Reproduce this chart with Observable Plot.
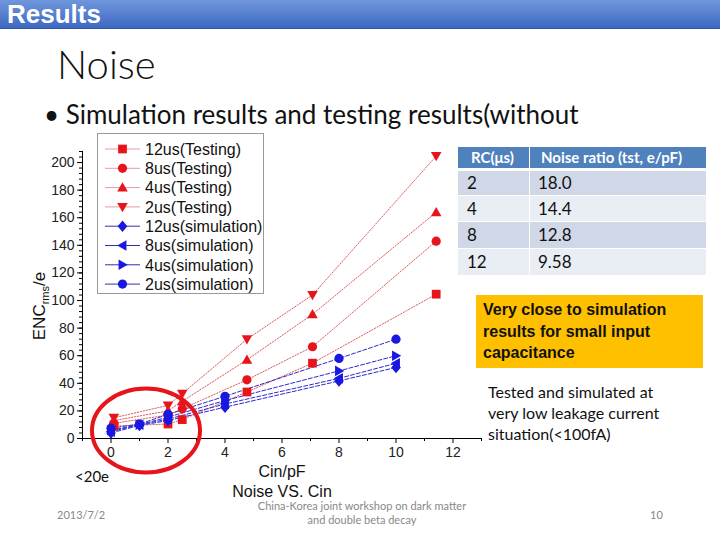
<!DOCTYPE html>
<html><head><meta charset="utf-8">
<script src="https://cdn.jsdelivr.net/npm/d3@7"></script>
<script src="https://cdn.jsdelivr.net/npm/@observablehq/plot@0.6"></script>
<style>
body{margin:0;background:#fff;}
#page{position:relative;width:720px;height:540px;overflow:hidden;background:#fff;font-family:"Liberation Sans",Arial,sans-serif;}
.abs{position:absolute;white-space:nowrap;}
#bar{left:0;top:0;width:720px;height:28px;background:linear-gradient(#7096dc,#3d69c2);border-bottom:1px solid #2d56a8;}
#bar span{position:absolute;left:7px;top:0px;font:bold 26px "Liberation Sans",Arial,sans-serif;color:#fff;line-height:28px;}
.cal{font-family:Lato,"Open Sans",sans-serif;}
</style></head><body><div id="page">
<div id="bar" class="abs"><span>Results</span></div>
<div class="abs cal" style="left:57px;top:39px;font-size:40px;font-weight:300;color:#111;line-height:50px;">Noise</div>
<div class="abs cal" style="left:44px;top:97px;font-size:26px;color:#111;line-height:34px;">•&nbsp;Simulation results and testing results(without</div>
<div id="chart" class="abs" style="left:0;top:140px;"></div>
<div id="ylab" class="abs" style="left:-10px;top:296px;width:100px;height:20px;line-height:20px;text-align:center;transform:rotate(-90deg);font-size:17px;color:#111;">ENC<sub style="font-size:11px;">rms</sub>/e</div>
<div id="legend" class="abs" style="left:97px;top:133px;"></div>
<div id="table" class="abs cal"></div>
<div class="abs" style="left:476px;top:295px;width:227px;height:73px;background:#ffc000;"></div>
<div id="note1" class="abs" style="left:483px;top:299px;font-size:16px;font-weight:bold;color:#111;line-height:21.5px;"></div>
<div id="note2" class="abs cal" style="left:488px;top:381px;font-size:16px;color:#111;line-height:21px;"></div>
<div class="abs cal" style="left:75px;top:466px;font-size:15px;color:#111;line-height:20px;">&lt;20e</div>
<svg class="abs" style="left:0;top:0;" width="720" height="540"><ellipse cx="146" cy="430.5" rx="54" ry="42" fill="none" stroke="#e8141c" stroke-width="4"/></svg>
<div class="abs cal" style="left:57px;top:507px;font-size:11px;color:#888;line-height:16px;">2013/7/2</div>
<div class="abs cal" style="left:212px;top:499px;width:300px;text-align:center;font-size:11px;color:#888;line-height:14px;">China-Korea joint workshop on dark matter<br>and double beta decay</div>
<div class="abs cal" style="left:650px;top:507px;font-size:11px;color:#888;line-height:16px;">10</div>
</div>
<script>
// ---------- data ----------
const testCin = [0.1, 2, 2.5, 4.77, 7.07, 11.41];
const test12 = [9, 10.5, 13.7, 33.7, 54.6, 104.6];
const test8  = [11, 17, 21.6, 42.5, 66.5, 143];
const test4  = [13, 20, 27, 57, 90, 164];
const test2  = [15, 24, 32.5, 72, 104, 204.7];
const simCin = [0, 1, 2, 4, 8, 10];
const sim12 = [4, 9.5, 13, 22.7, 41.7, 51.5];
const sim8  = [5, 10, 14, 25, 43.6, 54.5];
const sim4  = [6, 10, 15.5, 27.5, 49, 60];
const sim2  = [7.5, 10.5, 17.5, 30.6, 58, 72];
const legendNames = ["12us(Testing)","8us(Testing)","4us(Testing)","2us(Testing)","12us(simulation)","8us(simulation)","4us(simulation)","2us(simulation)"];
const xTicks = [0,2,4,6,8,10,12];
const xMinor = [-1,1,3,5,7,9,11,13];
const yTicks = [0,20,40,60,80,100,120,140,160,180,200];
const yMinor = d3.range(0, 209, 4);
const tableHead = ["RC(\u03bcs)", "Noise ratio (tst, e/pF)"];
const tableRC = ["2","4","8","12"];
const tableRatio = ["18.0","14.4","12.8","9.58"];
const note1Lines = ["Very close to simulation","results for small input","capacitance"];
const note2Lines = ["Tested and simulated at","very low leakage current","situation(<100fA)"];

// ---------- symbols ----------
const R = s => Math.sqrt(s / Math.PI);
const symSquare = {draw(c, s){const h=R(s)*0.95; c.moveTo(-h,-h); c.lineTo(h,-h); c.lineTo(h,h); c.lineTo(-h,h); c.closePath();}};
const symCircle = {draw(c, s){const r=R(s); c.moveTo(r,0); c.arc(0,0,r,0,2*Math.PI); c.closePath();}};
const symUp = {draw(c, s){const r=R(s)*1.15; c.moveTo(0,-r); c.lineTo(r,r*0.75); c.lineTo(-r,r*0.75); c.closePath();}};
const symDown = {draw(c, s){const r=R(s)*1.15; c.moveTo(0,r); c.lineTo(r,-r*0.75); c.lineTo(-r,-r*0.75); c.closePath();}};
const symLeft = {draw(c, s){const r=R(s)*1.15; c.moveTo(-r,0); c.lineTo(r*0.75,-r); c.lineTo(r*0.75,r); c.closePath();}};
const symRight = {draw(c, s){const r=R(s)*1.15; c.moveTo(r,0); c.lineTo(-r*0.75,-r); c.lineTo(-r*0.75,r); c.closePath();}};
const symDiamond = {draw(c, s){const r=R(s); c.moveTo(0,-r*1.25); c.lineTo(r*1.05,0); c.lineTo(0,r*1.25); c.lineTo(-r*1.05,0); c.closePath();}};

const RED = "#e8141c", REDLINE = "#d94a4a", BLUE = "#1818e0", BLUELINE = "#2a2ad0";
const series = [
  {name: legendNames[0], xs: testCin, ys: test12, sym: symSquare, test: true},
  {name: legendNames[1], xs: testCin, ys: test8, sym: symCircle, test: true},
  {name: legendNames[2], xs: testCin, ys: test4, sym: symUp, test: true},
  {name: legendNames[3], xs: testCin, ys: test2, sym: symDown, test: true},
  {name: legendNames[4], xs: simCin, ys: sim12, sym: symDiamond, test: false},
  {name: legendNames[5], xs: simCin, ys: sim8, sym: symLeft, test: false},
  {name: legendNames[6], xs: simCin, ys: sim4, sym: symRight, test: false},
  {name: legendNames[7], xs: simCin, ys: sim2, sym: symCircle, test: false}
];
const MR = 4.6;

const marks = [
  Plot.ruleX([-1], {stroke: "#000"}),
  Plot.ruleY([0], {stroke: "#000"}),
  Plot.axisX({ticks: xMinor, tickSize: 3, text: null, label: null}),
  Plot.axisX({ticks: xTicks, tickSize: 5, tickPadding: 4, label: null, fontSize: 14, fill: "#222"}),
  Plot.axisY({ticks: yMinor, tickSize: 3, text: null, label: null}),
  Plot.axisY({ticks: yTicks, tickSize: 5, tickPadding: 3, label: null, fontSize: 14, fill: "#222"}),
  Plot.text(["Cin/pF"], {frameAnchor: "bottom", dy: 38, fontSize: 16, fill: "#111"}),
  Plot.text(["Noise VS. Cin"], {frameAnchor: "bottom", dy: 58, fontSize: 16, fill: "#111"})
];
// lines first (red then blue), then dots
for (const s of series) {
  const data = s.xs.map((x, i) => ({x, y: s.ys[i]}));
  marks.push(Plot.line(data, {x: "x", y: "y", stroke: s.test ? REDLINE : BLUELINE, strokeWidth: s.test ? 0.9 : 1, strokeDasharray: s.test ? "1.4,1.6" : "4,2"}));
}
for (const s of series) {
  const data = s.xs.map((x, i) => ({x, y: s.ys[i]}));
  marks.push(Plot.dot(data, {x: "x", y: "y", symbol: s.sym, r: MR, fill: s.test ? RED : BLUE, stroke: "none"}));
}

const chart = Plot.plot({
  width: 500, height: 370,
  marginLeft: 82, marginRight: 19, marginTop: 11, marginBottom: 72,
  x: {domain: [-1, 13]},
  y: {domain: [0, 208]},
  style: {fontFamily: "Liberation Sans, Arial, sans-serif", background: "transparent", color: "#000"},
  marks
});
document.getElementById("chart").appendChild(chart);

// ---------- legend ----------
const lg = d3.select("#legend").append("svg").attr("width", 167).attr("height", 161);
lg.append("rect").attr("x", 0.5).attr("y", 0.5).attr("width", 166).attr("height", 160).attr("fill", "#fff").attr("stroke", "#999");
series.forEach((s, i) => {
  const cy = 16 + i * 19.3;
  lg.append("line").attr("x1", 8).attr("x2", 43).attr("y1", cy).attr("y2", cy)
    .attr("stroke", s.test ? "#e89a9a" : "#3030b0").attr("stroke-width", 1);
  lg.append("path").attr("d", d3.symbol(s.sym, Math.PI * MR * MR)()).attr("transform", `translate(25.5,${cy})`)
    .attr("fill", s.test ? RED : BLUE);
  lg.append("text").attr("x", 48).attr("y", cy).attr("dy", "0.36em").attr("font-size", 16)
    .attr("font-family", "Liberation Sans, Arial, sans-serif").attr("fill", "#111").text(s.name);
});

// ---------- table ----------
const tbl = document.getElementById("table");
tbl.style.left = "458px"; tbl.style.top = "147px";
const colX = [0, 72], colW = [71, 176];
function cell(x, y, w, h, bg, txt, style) {
  const d = document.createElement("div");
  d.className = "abs";
  Object.assign(d.style, {left: x + "px", top: y + "px", width: w + "px", height: h + "px", background: bg, lineHeight: h + "px"});
  const t = document.createElement("span");
  t.textContent = txt;
  Object.assign(t.style, {position: "absolute", left: style.pad + "px", fontSize: style.size + "px", fontWeight: style.weight, color: style.color});
  d.appendChild(t);
  tbl.appendChild(d);
}
tableHead.forEach((h, j) => cell(colX[j], 0, colW[j], 21, "#4f81bd", h, {pad: j ? 11 : 13, size: 15, weight: "bold", color: "#fff"}));
const rowTop = [24, 49, 75, 102], rowH = [24, 25, 26, 26];
tableRC.forEach((rc, i) => {
  const bg = i % 2 === 0 ? "#d0d8e8" : "#e9edf4";
  cell(colX[0], rowTop[i], colW[0], rowH[i], bg, rc, {pad: 9, size: 17, weight: "normal", color: "#111"});
  cell(colX[1], rowTop[i], colW[1], rowH[i], bg, tableRatio[i], {pad: 8, size: 17, weight: "normal", color: "#111"});
});

document.getElementById("note1").innerHTML = note1Lines.join("<br>");
document.getElementById("note2").innerHTML = note2Lines.map(s => s.replace("<", "&lt;")).join("<br>");
</script>
</body></html>
